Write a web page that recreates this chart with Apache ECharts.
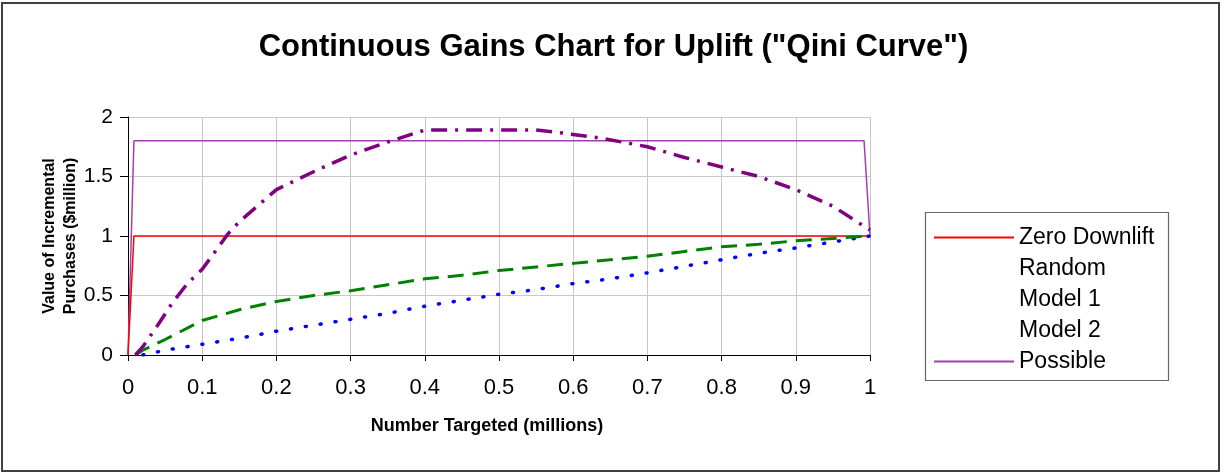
<!DOCTYPE html>
<html>
<head>
<meta charset="utf-8">
<script src="https://cdn.jsdelivr.net/npm/echarts@6/dist/echarts.min.js"></script>
<style>
html, body { margin: 0; padding: 0; background: #fff; }
#chart { width: 1227px; height: 474px; }
</style>
</head>
<body>
<div id="chart"></div>
<script>
// 数据
var seriesNames = ['Zero Downlift', 'Random', 'Model 1', 'Model 2', 'Possible'];

var zeroX = [0, 0.008, 1];
var zeroY = [0, 1, 1];

var randomX = [0.02, 0.05, 0.1, 0.15, 0.2, 0.25, 0.3, 0.35, 0.4, 0.45, 0.5, 0.55, 0.6, 0.65, 0.7, 0.75, 0.8, 0.85, 0.9, 0.95, 1];
var randomY = [0, 0.04, 0.09, 0.14, 0.2, 0.25, 0.3, 0.35, 0.41, 0.46, 0.51, 0.55, 0.6, 0.64, 0.69, 0.745, 0.8, 0.855, 0.9, 0.95, 1];

var model1X = [0.01, 0.02, 0.05, 0.1, 0.15, 0.2, 0.25, 0.3, 0.35, 0.4, 0.45, 0.5, 0.55, 0.6, 0.65, 0.7, 0.75, 0.8, 0.85, 0.9, 0.95, 1];
var model1Y = [0, 0.04, 0.13, 0.29, 0.38, 0.45, 0.5, 0.54, 0.59, 0.64, 0.67, 0.71, 0.74, 0.77, 0.8, 0.83, 0.87, 0.91, 0.93, 0.96, 0.98, 1];

var model2X = [0.01, 0.02, 0.04, 0.06, 0.08, 0.1, 0.135, 0.15, 0.2, 0.25, 0.3, 0.35, 0.39, 0.4, 0.45, 0.5, 0.55, 0.58, 0.64, 0.7, 0.75, 0.8, 0.85, 0.9, 0.95, 1];
var model2Y = [0, 0.07, 0.25, 0.44, 0.6, 0.72, 1.02, 1.12, 1.39, 1.54, 1.68, 1.79, 1.87, 1.89, 1.89, 1.89, 1.89, 1.87, 1.82, 1.75, 1.66, 1.58, 1.5, 1.39, 1.25, 1.05];

var possibleX = [0, 0.008, 0.992, 1];
var possibleY = [0, 1.8, 1.8, 1];

var xTicks = { min: 0, max: 1, interval: 0.1 };
var yTicks = { min: 0, max: 2, interval: 0.5 };

var FONT = 'Liberation Sans, Arial, sans-serif';

var zip = function(xs, ys){
	var out = [];
	for(var i = 0; i < xs.length; i++){
		out.push([xs[i], ys[i]]);
	}
	return out;
};

function mix(base, child){
	var o = {};
	for(var key in base){ o[key] = base[key]; }
	for(var key in child){ o[key] = child[key]; }
	return o;
}

var chart = echarts.init(document.getElementById('chart'));

// 没有图例线条的系列
var hidden = { lineStyle: { opacity: 0 } };

var option = {
	animation: false,
	backgroundColor: '#fff',
	title: {
		text: 'Continuous Gains Chart for Uplift ("Qini Curve")',
		left: 'center',
		top: 27,
		textStyle: { fontFamily: FONT, fontSize: 31, fontWeight: 'bold', color: '#000' }
	},
	grid: { left: 128, right: 357, top: 117, bottom: 119, containLabel: false },
	legend: {
		orient: 'vertical',
		left: 928,
		top: 220,
		itemWidth: 80,
		itemHeight: 14,
		itemGap: 6,
		itemStyle: { opacity: 0 },
		textStyle: { fontFamily: FONT, fontSize: 23, color: '#000', lineHeight: 25 },
		data: [
			{ name: 'Zero Downlift' },
			mix({ name: 'Random' }, hidden),
			mix({ name: 'Model 1' }, hidden),
			mix({ name: 'Model 2' }, hidden),
			{ name: 'Possible' }
		]
	},
	graphic: [
		{ type: 'rect', shape: { x: 2, y: 3, width: 1217, height: 468 }, style: { fill: 'none', stroke: '#404040', lineWidth: 2 }, silent: true },
		{ type: 'rect', shape: { x: 925.5, y: 212.5, width: 243, height: 168 }, style: { fill: 'none', stroke: '#666', lineWidth: 1.2 }, silent: true }
	],
	xAxis: {
		type: 'value',
		min: xTicks.min,
		max: xTicks.max,
		interval: xTicks.interval,
		name: 'Number Targeted (millions)',
		nameLocation: 'middle',
		nameGap: 62,
		nameMoveOverlap: false,
		nameTextStyle: { fontFamily: FONT, fontSize: 18, fontWeight: 'bold', color: '#000', padding: [0, 24, 0, 0] },
		axisLine: { lineStyle: { color: '#000', width: 1 } },
		axisTick: { show: true, length: 6, lineStyle: { color: '#000' } },
		axisLabel: { fontFamily: FONT, fontSize: 22, color: '#000', margin: 22 },
		splitLine: { show: true, lineStyle: { color: '#c8c8c8', width: 1 } }
	},
	yAxis: {
		type: 'value',
		min: yTicks.min,
		max: yTicks.max,
		interval: yTicks.interval,
		name: 'Value of Incremental\nPurchases ($million)',
		nameLocation: 'middle',
		nameRotate: 90,
		nameGap: 47,
		nameMoveOverlap: false,
		nameTextStyle: { fontFamily: FONT, fontSize: 16, fontWeight: 'bold', color: '#000', lineHeight: 21 },
		axisLine: { show: true, lineStyle: { color: '#000', width: 1 } },
		axisTick: { show: true, length: 8, lineStyle: { color: '#000' } },
		axisLabel: { fontFamily: FONT, fontSize: 21, color: '#000', margin: 15 },
		splitLine: { show: true, lineStyle: { color: '#c8c8c8', width: 1 } }
	},
	series: [
		{
			name: 'Zero Downlift', type: 'line', symbol: 'none', z: 3,
			lineStyle: { color: '#ff0000', width: 1.5 },
			itemStyle: { color: '#ff0000' },
			data: zip(zeroX, zeroY)
		},
		{
			name: 'Random', type: 'line', symbol: 'none', z: 4,
			lineStyle: { color: '#0000ff', width: 3.5, type: [1, 14], cap: 'round' },
			itemStyle: { color: '#0000ff' },
			data: zip(randomX, randomY)
		},
		{
			name: 'Model 1', type: 'line', symbol: 'none', z: 5,
			lineStyle: { color: '#008000', width: 3, type: [16, 9] },
			itemStyle: { color: '#008000' },
			data: zip(model1X, model1Y)
		},
		{
			name: 'Model 2', type: 'line', symbol: 'none', z: 6,
			lineStyle: { color: '#800080', width: 3.5, type: [16, 8, 3, 8] },
			itemStyle: { color: '#800080' },
			data: zip(model2X, model2Y)
		},
		{
			name: 'Possible', type: 'line', symbol: 'none', z: 2,
			lineStyle: { color: '#a040b0', width: 1.5 },
			itemStyle: { color: '#a040b0' },
			data: zip(possibleX, possibleY)
		}
	]
};

chart.setOption(option);
</script>
</body>
</html>
